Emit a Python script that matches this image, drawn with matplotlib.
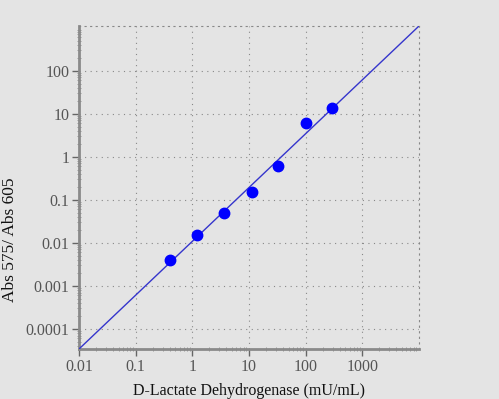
import matplotlib
matplotlib.use('Agg')
import matplotlib.pyplot as plt
from matplotlib.ticker import LogLocator, FixedLocator, FixedFormatter, NullFormatter

# standard curve points
conc = [0.4, 1.22, 3.66, 11.1, 32.7, 100, 293]
ratio = [0.0040, 0.0153, 0.049, 0.156, 0.62, 6.1, 13.3]

# fitted line end points
fit_x = [0.01, 10000]
fit_y = [3.4e-5, 1.1e3]

x_ticks = [0.01, 0.1, 1, 10, 100, 1000]
x_labels = ['0.01', '0.1', '1', '10', '100', '1000']
y_ticks = [0.0001, 0.001, 0.01, 0.1, 1, 10, 100]
y_labels = ['0.0001', '0.001', '0.01', '0.1', '1', '10', '100']

plt.rcParams['font.family'] = ['Liberation Serif', 'DejaVu Serif']

bg = '#e4e4e4'
fig = plt.figure(figsize=(4.99, 3.99), dpi=100, facecolor=bg)
ax = fig.add_axes([79 / 499, 50 / 399, 340 / 499, 323 / 399])
ax.set_facecolor(bg)

ax.plot(fit_x, fit_y, color='#3535cc', lw=1, zorder=3)
ax.plot(conc, ratio, 'o', color='#0000ff', ms=7.5, zorder=4)

ax.set_xscale('log')
ax.set_yscale('log')
ax.set_xlim(fit_x)
ax.set_ylim(fit_y)

ax.xaxis.set_major_locator(FixedLocator(x_ticks))
ax.xaxis.set_major_formatter(FixedFormatter(x_labels))
ax.yaxis.set_major_locator(FixedLocator(y_ticks))
ax.yaxis.set_major_formatter(FixedFormatter(y_labels))
ax.xaxis.set_minor_locator(LogLocator(base=10, subs=[0.2, 0.3, 0.4, 0.5, 0.6, 0.7, 0.8, 0.9], numticks=20))
ax.yaxis.set_minor_locator(LogLocator(base=10, subs=[0.2, 0.3, 0.4, 0.5, 0.6, 0.7, 0.8, 0.9], numticks=20))
ax.xaxis.set_minor_formatter(NullFormatter())
ax.yaxis.set_minor_formatter(NullFormatter())

ax.grid(True, which='major', linestyle=(0, (1, 4)), color='#888888', lw=0.8)

for s in ['top', 'right']:
    ax.spines[s].set_linestyle((0, (1, 4)))
    ax.spines[s].set_color('#888888')
    ax.spines[s].set_linewidth(0.8)
for s in ['left', 'bottom']:
    ax.spines[s].set_color('#8a8a8a')
    ax.spines[s].set_linewidth(2)

ax.tick_params(which='major', length=5, width=1, color='#666666', labelsize=11.5, labelcolor='#555555', pad=2)
ax.tick_params(which='minor', length=3, width=0.7, color='#999999', direction='inout')
ax.tick_params(top=False, right=False, which='both')

ax.set_xlabel('D-Lactate Dehydrogenase (mU/mL)', fontsize=11.5, color='#111111', labelpad=6)
ax.set_ylabel('Abs 575/ Abs 605', fontsize=12.5, color='#111111')
ax.yaxis.set_label_coords(-0.179, 0.337)

fig.savefig('out.png', dpi=100, facecolor=bg)
